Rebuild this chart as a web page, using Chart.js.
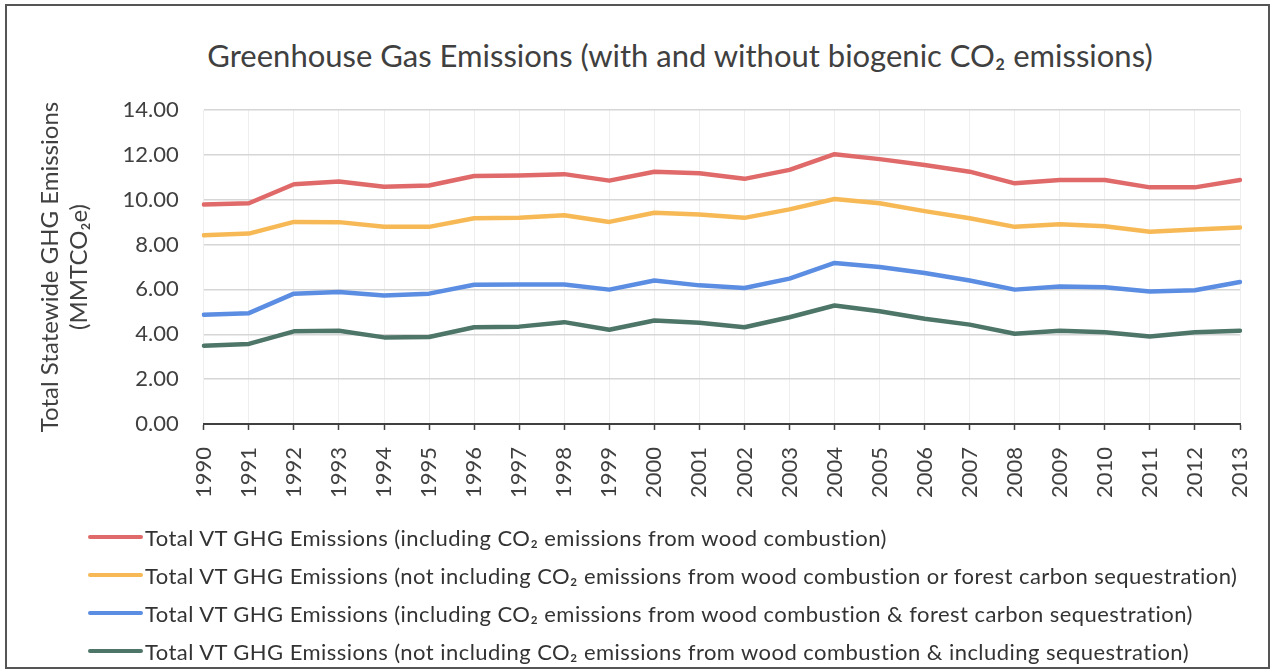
<!DOCTYPE html>
<html>
<head>
<meta charset="utf-8">
<script src="https://cdn.jsdelivr.net/npm/chart.js@4.4.1/dist/chart.umd.min.js"></script>
<style>
    body { margin: 0; background: #fff; font-family: Lato, "Open Sans", sans-serif; }
    #frame { position: absolute; left: 5px; top: 4px; width: 1261px; height: 661px; border: 2px solid #555; }
    #wrap { position: absolute; left: 0; top: 0; width: 1275px; height: 520px; }
    #title { position: absolute; left: 0; top: 36px; width: 1360px; text-align: center;
             font-size: 31px; color: #404040; }
    #legend { position: absolute; left: 88px; top: 518px; }
    .item { height: 38px; display: flex; align-items: center; font-size: 22px; letter-spacing: 0.45px; color: #333; }
    .swatch { display: inline-block; width: 55px; height: 4.5px; border-radius: 2px; margin-right: 2px; }
</style>
</head>
<body>
<div id="frame"></div>
<div id="title">Greenhouse Gas Emissions (with and without biogenic CO₂ emissions)</div>
<div id="wrap"><canvas id="ghgChart"></canvas></div>
<div id="legend"></div>
<script>
const years = ['1990', '1991', '1992', '1993', '1994', '1995', '1996', '1997', '1998', '1999', '2000', '2001',
    '2002', '2003', '2004', '2005', '2006', '2007', '2008', '2009', '2010', '2011', '2012', '2013'];

const yTicks = [0, 2, 4, 6, 8, 10, 12, 14];

const seriesLabels = [
    'Total VT GHG Emissions (including CO₂ emissions from wood combustion)',
    'Total VT GHG Emissions (not including CO₂ emissions from wood combustion or forest carbon sequestration)',
    'Total VT GHG Emissions (including CO₂ emissions from wood combustion & forest carbon sequestration)',
    'Total VT GHG Emissions (not including CO₂ emissions from wood combustion & including sequestration)'
];

const withWood = [9.79, 9.84, 10.69, 10.81, 10.58, 10.63, 11.06, 11.08, 11.14, 10.85, 11.25, 11.18,
    10.93, 11.33, 12.03, 11.81, 11.55, 11.25, 10.73, 10.88, 10.88, 10.55, 10.55, 10.88];
const withoutWood = [8.42, 8.49, 9.01, 9.00, 8.79, 8.79, 9.17, 9.20, 9.31, 9.01, 9.42, 9.34,
    9.19, 9.57, 10.03, 9.84, 9.49, 9.17, 8.79, 8.91, 8.82, 8.57, 8.67, 8.76];
const withWoodSeq = [4.87, 4.94, 5.81, 5.88, 5.73, 5.81, 6.21, 6.22, 6.22, 5.99, 6.40, 6.18,
    6.06, 6.48, 7.18, 7.00, 6.73, 6.40, 5.99, 6.13, 6.10, 5.91, 5.96, 6.33];
const withoutWoodSeq = [3.49, 3.57, 4.13, 4.16, 3.86, 3.88, 4.31, 4.34, 4.54, 4.20, 4.61, 4.51,
    4.31, 4.76, 5.28, 5.03, 4.69, 4.43, 4.02, 4.16, 4.09, 3.90, 4.09, 4.16];

const colors = ['#e06a6a', '#f7b955', '#5b8de2', '#4d7668'];
const values = [withWood, withoutWood, withWoodSeq, withoutWoodSeq];

const textColor = '#404040';
const fontFamily = 'Lato, "Open Sans", sans-serif';

const chart = new Chart(document.getElementById('ghgChart'), {
    type: 'line',
    data: {
        labels: years,
        datasets: values.map((v, i) => ({
            label: seriesLabels[i],
            data: v,
            borderColor: colors[i],
            backgroundColor: colors[i],
            borderWidth: 4.5,
            borderCapStyle: 'round',
            borderJoinStyle: 'round',
            pointRadius: 0,
            tension: 0
        }))
    },
    options: {
        responsive: true,
        maintainAspectRatio: false,
        animation: false,
        layout: { padding: { left: 36, right: 35, top: 110, bottom: 5 } },
        plugins: {
            legend: { display: false },
            tooltip: { enabled: false }
        },
        scales: {
            x: {
                offset: false,
                // rotated labels would otherwise reserve extra room on the right
                afterFit: (scale) => { scale.paddingRight = 0; },
                ticks: {
                    maxRotation: 90, minRotation: 90, autoSkip: false,
                    padding: 17, color: textColor,
                    font: { family: fontFamily, size: 22 }
                },
                grid: { color: '#eeeeee', lineWidth: 1, tickColor: textColor, tickLength: 6, tickWidth: 1.5 },
                border: { color: textColor, width: 2 }
            },
            y: {
                min: 0,
                max: 14,
                afterBuildTicks: (scale) => { scale.ticks = yTicks.map(v => ({ value: v })); },
                ticks: {
                    padding: 25, color: textColor,
                    font: { family: fontFamily, size: 22 },
                    callback: (v) => Number(v).toFixed(2)
                },
                grid: { color: '#d6d6d6', lineWidth: 1.5, drawTicks: false },
                border: { display: false },
                title: {
                    display: true,
                    text: ['Total Statewide GHG Emissions', '(MMTCO₂e)'],
                    color: textColor,
                    font: { family: fontFamily, size: 24 },
                    padding: { top: 0, bottom: 4 }
                }
            }
        }
    }
});

// legend kept outside the canvas, one row per series
const legendEl = document.getElementById('legend');
chart.data.datasets.forEach((ds) => {
    const row = document.createElement('div');
    row.className = 'item';
    const sw = document.createElement('span');
    sw.className = 'swatch';
    sw.style.background = ds.borderColor;
    row.appendChild(sw);
    row.appendChild(document.createTextNode(ds.label));
    legendEl.appendChild(row);
});
</script>
</body>
</html>
